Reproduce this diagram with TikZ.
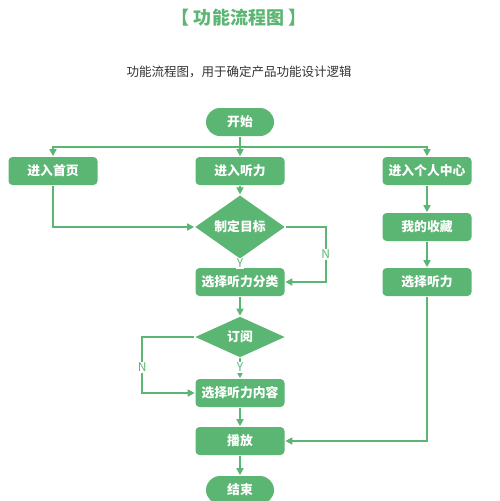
\documentclass[tikz,border=0pt]{standalone}
\usepackage{fontspec}
\setmainfont{Noto Sans CJK SC}
\usetikzlibrary{shapes.geometric,arrows.meta,positioning,calc}
\definecolor{fcGreen}{HTML}{5BB673}
\definecolor{fcText}{HTML}{333333}
\tikzset{
  fc/.style={font=\fontsize{12.8}{15}\selectfont\bfseries, line width=1.6pt, >={Triangle[length=7pt, width=7pt]}},
  box/.style={fill=fcGreen, text=white, rounded corners=4pt, minimum width=89pt, minimum height=28pt, inner sep=2pt, align=center},
  term/.style={box, minimum width=68pt, rounded corners=14pt},
  dec/.style={diamond, fill=fcGreen, text=white, minimum width=90pt, minimum height=41pt, inner sep=0pt},
  flow/.style={->, draw=fcGreen},
  yn/.style={font=\fontsize{12}{13}\selectfont, text=fcGreen, fill=white, inner sep=1pt},
}
\begin{document}
\begin{tikzpicture}[fc, x=1pt, y=-1pt]
\useasboundingbox (0,0) rectangle (500,501);
% titles
\node[font=\fontsize{18}{21}\selectfont\bfseries, text=fcGreen] (title) at (239,18) {【\ 功能流程图\ 】};
\node[font=\fontsize{12.5}{15}\selectfont, text=fcText] (sub) at (239,72) {功能流程图，用于确定产品功能设计逻辑};
% column mid
\node[term] (start)  at (240,122) {开始};
\node[box]  (listen) at (240,171) {进入听力};
\node[dec]  (goal)   at (240,227) {制定目标};
\node[box]  (cat)    at (240,282) {选择听力分类};
\node[dec]  (sub2)   at (240,337) {订阅};
\node[box]  (cont)   at (240,393) {选择听力内容};
\node[box]  (play)   at (240,441) {播放};
\node[term] (end)    at (240,490) {结束};
% columns left / right
\node[box]  (home)   at (53,171)  {进入首页};
\node[box]  (me)     at (427,171) {进入个人中心};
\node[box]  (fav)    at (427,227) {我的收藏};
\node[box]  (pick)   at (427,282) {选择听力};
\coordinate (split) at (240,147);

\draw[draw=fcGreen] (start) -- (split);
\draw[flow] (split) -| (home);
\draw[flow] (split) -| (me);
\draw[flow] (split) -- (listen);
\draw[flow] (listen) -- (goal);
\draw[flow] (home) |- (goal);
\draw[flow] (goal) -- node[yn] {Y} (cat);
\draw[flow] (goal.east) -- ++(40,0) |- node[yn,pos=.25] {N} (cat);
\draw[flow] (cat) -- (sub2);
\draw[flow] (sub2) -- node[yn,pos=.45] {Y} (cont);
\draw[flow] (sub2.west) -- ++(-52,0) |- node[yn,pos=.27] {N} (cont);
\draw[flow] (cont) -- (play);
\draw[flow] (play) -- (end);
\draw[flow] (me) -- (fav);
\draw[flow] (fav) -- (pick);
\draw[flow] (pick) |- (play);
\end{tikzpicture}
\end{document}
